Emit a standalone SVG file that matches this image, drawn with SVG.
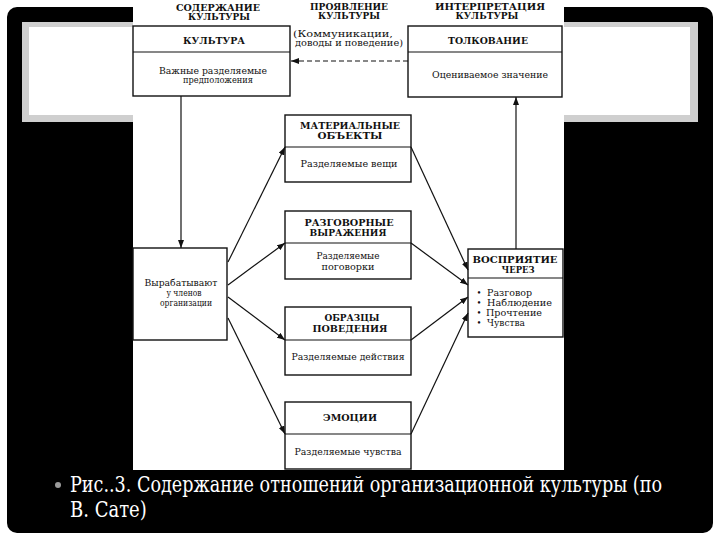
<svg xmlns="http://www.w3.org/2000/svg" width="720" height="540" viewBox="0 0 720 540">
<style>
.box{fill:#fff;stroke:#111;stroke-width:1.4}
.div{stroke:#111;stroke-width:1.2}
text{font-family:'DejaVu Serif','Liberation Serif',serif}
.t{fill:#111;text-anchor:middle}
.l{text-anchor:start}
.h{font-size:9px;font-weight:bold}
.hh{font-size:8.5px;font-weight:bold}
.b{font-size:8.5px}
.cap{font-size:22px;fill:#fff;text-anchor:start}
.ln{stroke:#111;stroke-width:1.2;fill:none;marker-end:url(#ah)}
</style>
<defs>
<marker id="ah" markerUnits="userSpaceOnUse" markerWidth="8" markerHeight="6" refX="8" refY="3" orient="auto">
<path d="M0,0 L8,3 L0,6 z" fill="#111"/>
</marker>
</defs>
<rect width="720" height="540" fill="#fff"/>
<rect x="7" y="7" width="706" height="526" rx="10" fill="#000"/>
<rect x="22" y="22" width="676" height="100" fill="#cfcfcf"/>
<rect x="29" y="27" width="661" height="88" fill="#fff"/>
<rect x="133" y="0" width="431" height="470" fill="#fff"/>

<g id="hdr-content">
<text class="t hh" x="218" y="11" textLength="84" lengthAdjust="spacingAndGlyphs">СОДЕРЖАНИЕ</text>
<text class="t hh" x="219" y="20" textLength="62" lengthAdjust="spacingAndGlyphs">КУЛЬТУРЫ</text>
</g>
<g id="hdr-manifest">
<text class="t hh" x="349" y="10" textLength="78" lengthAdjust="spacingAndGlyphs">ПРОЯВЛЕНИЕ</text>
<text class="t hh" x="349" y="19" textLength="62" lengthAdjust="spacingAndGlyphs">КУЛЬТУРЫ</text>
<text class="t b" x="343" y="37" textLength="100" lengthAdjust="spacingAndGlyphs">(Коммуникации,</text>
<text class="t b" x="349" y="46" textLength="108" lengthAdjust="spacingAndGlyphs">доводы и поведение)</text>
</g>
<g id="hdr-interp">
<text class="t hh" x="490" y="10" textLength="110" lengthAdjust="spacingAndGlyphs">ИНТЕРПРЕТАЦИЯ</text>
<text class="t hh" x="487" y="19" textLength="63" lengthAdjust="spacingAndGlyphs">КУЛЬТУРЫ</text>
</g>

<g id="culture">
<rect class="box" x="133" y="26" width="157" height="70"/>
<line class="div" x1="133" y1="52" x2="290" y2="52"/>
<text class="t h" x="214" y="44" textLength="62" lengthAdjust="spacingAndGlyphs">КУЛЬТУРА</text>
<text class="t b" x="213" y="74" textLength="108" lengthAdjust="spacingAndGlyphs">Важные разделяемые</text>
<text class="t b" x="218" y="83" textLength="70" lengthAdjust="spacingAndGlyphs">предположения</text>
</g>
<g id="interpretation">
<rect class="box" x="408" y="26" width="154" height="71"/>
<line class="div" x1="408" y1="52" x2="562" y2="52"/>
<text class="t h" x="488" y="44" textLength="80" lengthAdjust="spacingAndGlyphs">ТОЛКОВАНИЕ</text>
<text class="t b" x="490" y="78" textLength="116" lengthAdjust="spacingAndGlyphs">Оцениваемое значение</text>
</g>
<g id="develop">
<rect class="box" x="133" y="248" width="94" height="92"/>
<text class="t b" x="181" y="286" textLength="73" lengthAdjust="spacingAndGlyphs">Вырабатывают</text>
<text class="t b" x="184" y="296" textLength="35" lengthAdjust="spacingAndGlyphs">у членов</text>
<text class="t b" x="186" y="306" textLength="52" lengthAdjust="spacingAndGlyphs">организации</text>
</g>
<g id="material">
<rect class="box" x="285" y="115" width="126" height="67"/>
<line class="div" x1="285" y1="147" x2="411" y2="147"/>
<text class="t h" x="350" y="129" textLength="100" lengthAdjust="spacingAndGlyphs">МАТЕРИАЛЬНЫЕ</text>
<text class="t h" x="350" y="139" textLength="65" lengthAdjust="spacingAndGlyphs">ОБЪЕКТЫ</text>
<text class="t b" x="349" y="167" textLength="97" lengthAdjust="spacingAndGlyphs">Разделяемые вещи</text>
</g>
<g id="speech">
<rect class="box" x="285" y="211" width="126" height="68"/>
<line class="div" x1="285" y1="243" x2="411" y2="243"/>
<text class="t h" x="349" y="226" textLength="89" lengthAdjust="spacingAndGlyphs">РАЗГОВОРНЫЕ</text>
<text class="t h" x="348" y="236" textLength="77" lengthAdjust="spacingAndGlyphs">ВЫРАЖЕНИЯ</text>
<text class="t b" x="348" y="259" textLength="63" lengthAdjust="spacingAndGlyphs">Разделяемые</text>
<text class="t b" x="348" y="270" textLength="53" lengthAdjust="spacingAndGlyphs">поговорки</text>
</g>
<g id="behavior">
<rect class="box" x="285" y="307" width="126" height="68"/>
<line class="div" x1="285" y1="340" x2="411" y2="340"/>
<text class="t h" x="352" y="321" textLength="55" lengthAdjust="spacingAndGlyphs">ОБРАЗЦЫ</text>
<text class="t h" x="350" y="332" textLength="75" lengthAdjust="spacingAndGlyphs">ПОВЕДЕНИЯ</text>
<text class="t b" x="348" y="360" textLength="113" lengthAdjust="spacingAndGlyphs">Разделяемые действия</text>
</g>
<g id="emotions">
<rect class="box" x="285" y="402" width="126" height="67"/>
<line class="div" x1="285" y1="434" x2="411" y2="434"/>
<text class="t h" x="350" y="421" textLength="54" lengthAdjust="spacingAndGlyphs">ЭМОЦИИ</text>
<text class="t b" x="348" y="455" textLength="107" lengthAdjust="spacingAndGlyphs">Разделяемые чувства</text>
</g>
<g id="perception">
<rect class="box" x="468" y="249" width="95" height="88"/>
<line class="div" x1="468" y1="278" x2="563" y2="278"/>
<text class="t h" x="515" y="263" textLength="85" lengthAdjust="spacingAndGlyphs">ВОСПРИЯТИЕ</text>
<text class="t h" x="518" y="273" textLength="33" lengthAdjust="spacingAndGlyphs">ЧЕРЕЗ</text>
<text class="t b" x="479" y="296">•</text>
<text class="t b" x="479" y="306">•</text>
<text class="t b" x="479" y="316">•</text>
<text class="t b" x="479" y="326">•</text>
<text class="t b l" x="487" y="296" textLength="45" lengthAdjust="spacingAndGlyphs">Разговор</text>
<text class="t b l" x="487" y="306" textLength="65" lengthAdjust="spacingAndGlyphs">Наблюдение</text>
<text class="t b l" x="486" y="316" textLength="56" lengthAdjust="spacingAndGlyphs">Прочтение</text>
<text class="t b l" x="487" y="326" textLength="38" lengthAdjust="spacingAndGlyphs">Чувства</text>
</g>

<g id="connectors">
<line class="ln" x1="181" y1="96" x2="181" y2="248"/>
<line class="ln" x1="516" y1="249" x2="516" y2="97"/>
<line class="ln" x1="408" y1="61" x2="291" y2="61" stroke-dasharray="5,3"/>
<line class="ln" x1="228" y1="262" x2="285" y2="147"/>
<line class="ln" x1="228" y1="285" x2="285" y2="243"/>
<line class="ln" x1="228" y1="297" x2="285" y2="340"/>
<line class="ln" x1="228" y1="318" x2="285" y2="434"/>
<line class="ln" x1="411" y1="147" x2="468" y2="270"/>
<line class="ln" x1="411" y1="243" x2="468" y2="285"/>
<line class="ln" x1="411" y1="340" x2="468" y2="297"/>
<line class="ln" x1="411" y1="434" x2="468" y2="313"/>
</g>

<g id="caption">
<circle cx="58" cy="485" r="3" fill="#9a9a9a"/>
<text class="cap" transform="translate(70,492) scale(0.8,1)" x="0" y="0" textLength="740" lengthAdjust="spacingAndGlyphs">Рис..3. Содержание отношений организационной культуры (по</text>
<text class="cap" transform="translate(70,517) scale(0.8,1)" x="0" y="0" textLength="96" lengthAdjust="spacingAndGlyphs">В. Сате)</text>
</g>
</svg>
